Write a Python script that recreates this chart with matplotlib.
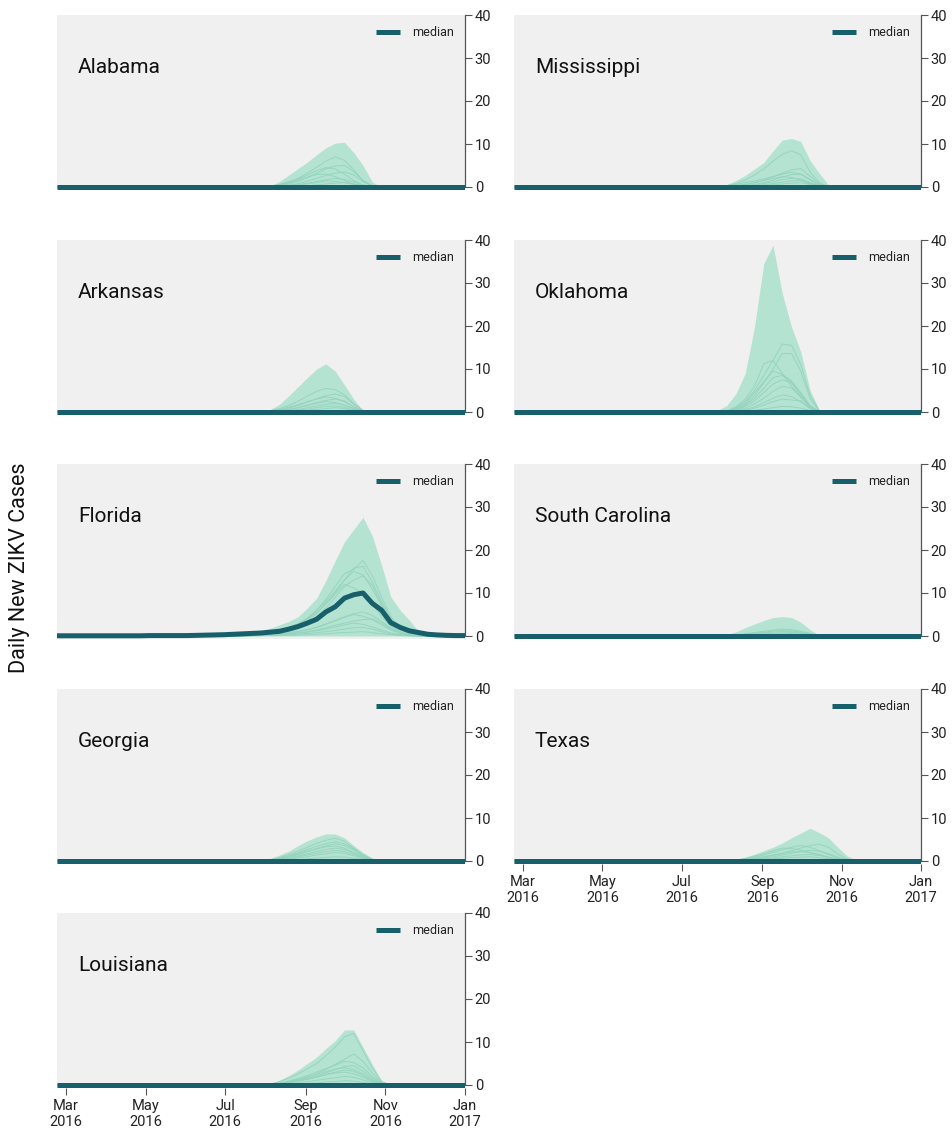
import numpy as np
import pandas as pd
import matplotlib
matplotlib.use("Agg")
import matplotlib.pyplot as plt
from matplotlib.lines import Line2D

plt.rcParams["font.family"] = ["Roboto", "DejaVu Sans"]

# ---------------------------------------------------------------- data
# roughly weekly reporting dates over the season
dates = pd.date_range("2016-02-23", "2017-01-01", periods=45)
WIN_START = 20          # first week index of the outbreak window

states_left = ["Alabama", "Arkansas", "Florida", "Georgia", "Louisiana"]
states_right = ["Mississippi", "Oklahoma", "South Carolina", "Texas"]

# Florida median trajectory (full season)
florida_median = [0.05, 0.05, 0.05, 0.05, 0.05, 0.05, 0.05, 0.05, 0.05, 0.05,
                  0.1, 0.1, 0.1, 0.1, 0.1, 0.15, 0.2, 0.25, 0.3, 0.4,
                  0.5, 0.6, 0.7, 0.9, 1.1, 1.6, 2.2, 3.0, 3.9, 5.6,
                  6.8, 8.8, 9.6, 10.0, 7.6, 6.0, 3.1, 2.0, 1.2, 0.8,
                  0.4, 0.25, 0.15, 0.1, 0.1]

# upper envelope of all simulations, outbreak window only
alabama_upper = [0, 0, 0, 0.2, 1.3, 2.8, 4.3, 5.8, 7.5, 9.1, 10.2, 10.4, 8.0, 5.0, 1.2]
arkansas_upper = [0, 0, 0, 0.6, 1.8, 3.8, 5.9, 8.0, 10.0, 11.2, 9.5, 6.3, 3.0, 0.3]
florida_upper = [0.6, 0.8, 1.1, 1.8, 2.6, 3.4, 4.5, 6.5, 8.8, 12.9, 17.5, 21.9,
                 24.8, 27.6, 23.3, 16.5, 9.1, 6.0, 3.7, 1.0, 0.4]
georgia_upper = [0, 0, 0, 0.6, 1.4, 2.3, 3.6, 4.7, 5.6, 6.3, 6.3, 5.4, 3.6, 2.0, 0.7]
louisiana_upper = [0, 0, 0, 0.3, 1.1, 2.2, 3.5, 5.0, 6.5, 8.5, 10.3, 12.8, 12.8, 8.8, 4.8, 1.0]
mississippi_upper = [0, 0, 0, 0.6, 1.5, 2.7, 4.2, 5.7, 8.4, 10.9, 11.3, 10.6, 6.2, 3.2, 0.5]
oklahoma_upper = [0, 0.1, 0.4, 1.5, 4.3, 9.0, 19.8, 34.5, 38.8, 27.6, 19.8, 14.0, 5.1, 0.5]
south_carolina_upper = [0, 0, 0, 0.3, 1.0, 1.9, 2.8, 3.6, 4.3, 4.5, 4.3, 3.2, 1.5, 0.2]
texas_upper = [0, 0, 0, 0, 0.3, 0.9, 1.6, 2.4, 3.2, 4.2, 5.4, 6.5, 7.6, 6.6, 5.4, 3.2, 1.2, 0.2]

# individual simulation runs, outbreak window only
alabama_runs = [
    [0, 0, 0, 0.2, 0.6, 1.2, 2.0, 3.2, 4.6, 6.0, 7.0, 6.2, 4.0, 1.5, 0.3],
    [0, 0, 0, 0.1, 0.3, 0.7, 1.3, 2.2, 3.2, 4.2, 4.9, 5.0, 3.6, 1.5, 0.3],
    [0, 0, 0, 0.2, 0.5, 1.0, 1.8, 2.8, 3.8, 4.5, 4.2, 3.0, 1.5, 0.4],
    [0, 0, 0, 0, 0.1, 0.4, 0.8, 1.4, 2.0, 2.7, 3.2, 3.5, 2.8, 1.2, 0.2],
    [0, 0, 0, 0.2, 0.5, 1.0, 1.6, 2.3, 2.9, 3.0, 2.4, 1.5, 0.7, 0.2],
    [0, 0, 0, 0, 0.1, 0.3, 0.6, 0.9, 1.3, 1.7, 2.0, 1.8, 1.2, 0.5, 0.1],
    [0, 0, 0, 0, 0.1, 0.2, 0.4, 0.7, 1.0, 1.4, 1.3, 1.0, 0.6, 0.2],
    [0, 0, 0, 0, 0, 0.1, 0.2, 0.3, 0.5, 0.7, 0.9, 1.0, 0.7, 0.3],
]
arkansas_runs = [
    [0, 0, 0, 0.3, 0.8, 1.5, 2.5, 3.7, 4.8, 5.5, 5.2, 4.0, 2.0, 0.4],
    [0, 0, 0, 0.1, 0.4, 0.9, 1.5, 2.3, 3.1, 3.8, 4.2, 3.6, 1.8, 0.3],
    [0, 0, 0, 0.2, 0.6, 1.1, 1.7, 2.4, 3.0, 3.5, 3.2, 2.4, 1.2, 0.2],
    [0, 0, 0, 0.1, 0.3, 0.6, 1.0, 1.6, 2.2, 2.7, 3.0, 2.6, 1.2, 0.2],
    [0, 0, 0, 0.1, 0.3, 0.6, 1.0, 1.5, 2.0, 2.4, 2.2, 1.6, 0.8, 0.1],
    [0, 0, 0, 0, 0.1, 0.3, 0.6, 1.0, 1.4, 1.8, 2.0, 1.6, 0.8, 0.1],
    [0, 0, 0, 0, 0.1, 0.2, 0.4, 0.7, 1.0, 1.3, 1.4, 1.1, 0.5, 0.1],
    [0, 0, 0, 0, 0, 0.1, 0.2, 0.4, 0.6, 0.8, 1.0, 0.8, 0.4],
]
florida_runs = [
    [0.5, 0.6, 0.8, 1.0, 1.4, 2.0, 2.8, 4.0, 6.0, 8.5, 11.5, 14.5, 15.5, 17.6, 14.0, 9.0, 4.5, 2.0, 0.8, 0.3, 0.1],
    [0.4, 0.5, 0.7, 0.9, 1.2, 1.8, 2.5, 3.6, 5.2, 7.5, 10.0, 13.0, 15.8, 16.2, 12.5, 8.0, 4.0, 1.8, 0.7, 0.3, 0.1],
    [0.3, 0.4, 0.6, 0.9, 1.3, 1.9, 2.8, 4.2, 6.0, 8.0, 10.5, 13.0, 15.0, 14.2, 11.0, 7.0, 3.5, 1.5, 0.6, 0.2, 0.1],
    [0.3, 0.4, 0.5, 0.7, 1.0, 1.4, 2.0, 3.0, 4.5, 6.5, 9.0, 11.5, 13.0, 14.0, 11.8, 7.5, 3.8, 1.6, 0.6, 0.2, 0.1],
    [0.3, 0.4, 0.6, 0.9, 1.3, 1.9, 2.8, 4.0, 5.5, 7.5, 9.8, 12.0, 11.2, 10.0, 7.5, 4.5, 2.2, 1.0, 0.4, 0.1],
    [0.1, 0.2, 0.3, 0.4, 0.6, 0.8, 1.1, 1.5, 2.0, 2.8, 3.6, 4.5, 5.2, 5.6, 4.8, 3.4, 1.8, 0.8, 0.3, 0.1],
    [0.1, 0.2, 0.3, 0.4, 0.5, 0.7, 1.0, 1.4, 2.0, 2.7, 3.5, 4.3, 5.0, 4.6, 3.8, 2.6, 1.4, 0.6, 0.2, 0.1],
    [0.1, 0.1, 0.2, 0.3, 0.4, 0.5, 0.7, 1.0, 1.4, 1.9, 2.5, 3.0, 3.5, 3.8, 4.0, 3.0, 1.6, 0.7, 0.3, 0.1],
    [0.1, 0.1, 0.2, 0.3, 0.4, 0.5, 0.7, 0.9, 1.2, 1.6, 2.1, 2.6, 3.0, 2.7, 2.1, 1.4, 0.7, 0.3, 0.1],
    [0, 0.1, 0.1, 0.2, 0.2, 0.3, 0.4, 0.6, 0.8, 1.0, 1.3, 1.6, 1.9, 2.0, 1.6, 1.0, 0.5, 0.2, 0.1],
    [0, 0, 0.1, 0.1, 0.1, 0.2, 0.2, 0.3, 0.4, 0.5, 0.7, 0.8, 0.9, 1.0, 0.8, 0.5, 0.3, 0.1],
]
georgia_runs = [
    [0, 0, 0, 0.3, 0.8, 1.5, 2.3, 3.2, 4.1, 4.8, 5.3, 4.6, 3.0, 1.5, 0.4],
    [0, 0, 0, 0.2, 0.6, 1.2, 1.9, 2.7, 3.4, 4.0, 4.5, 4.0, 2.8, 1.3, 0.3],
    [0, 0, 0, 0.1, 0.4, 0.9, 1.5, 2.2, 2.9, 3.5, 4.0, 3.6, 2.6, 1.2, 0.3],
    [0, 0, 0, 0.2, 0.6, 1.1, 1.7, 2.3, 2.8, 3.3, 3.5, 3.0, 2.0, 1.0, 0.2],
    [0, 0, 0, 0.1, 0.3, 0.7, 1.2, 1.7, 2.2, 2.7, 3.0, 2.7, 1.8, 0.8, 0.2],
    [0, 0, 0, 0.1, 0.3, 0.6, 1.0, 1.4, 1.8, 2.2, 2.5, 2.2, 1.5, 0.7, 0.1],
    [0, 0, 0, 0, 0.2, 0.4, 0.7, 1.0, 1.4, 1.7, 2.0, 1.8, 1.2, 0.5, 0.1],
    [0, 0, 0, 0, 0.1, 0.2, 0.3, 0.5, 0.7, 0.8, 1.0, 0.9, 0.6, 0.3],
]
louisiana_runs = [
    [0, 0, 0, 0.2, 0.8, 1.6, 2.6, 3.8, 5.0, 6.8, 8.8, 11.2, 12.0, 8.0, 4.0, 0.8],
    [0, 0, 0, 0.1, 0.3, 0.7, 1.2, 1.8, 2.6, 3.6, 4.8, 6.0, 7.2, 5.5, 2.8, 0.6],
    [0, 0, 0, 0.1, 0.4, 0.9, 1.5, 2.2, 3.0, 3.8, 4.6, 5.5, 5.2, 4.0, 2.0, 0.4],
    [0, 0, 0, 0.1, 0.3, 0.6, 1.0, 1.5, 2.1, 2.8, 3.6, 4.3, 4.5, 3.2, 1.6, 0.3],
    [0, 0, 0, 0.1, 0.4, 0.8, 1.3, 1.9, 2.5, 3.1, 3.7, 4.0, 3.6, 2.6, 1.2, 0.2],
    [0, 0, 0, 0, 0.2, 0.5, 0.9, 1.3, 1.8, 2.4, 3.0, 3.5, 3.2, 2.2, 1.0, 0.2],
    [0, 0, 0, 0.1, 0.3, 0.6, 1.0, 1.4, 1.9, 2.4, 2.8, 3.0, 2.6, 1.8, 0.8, 0.1],
    [0, 0, 0, 0, 0.1, 0.3, 0.5, 0.8, 1.1, 1.4, 1.7, 2.0, 1.8, 1.2, 0.5],
    [0, 0, 0, 0, 0.1, 0.1, 0.2, 0.4, 0.5, 0.7, 0.8, 1.0, 0.9, 0.6, 0.3],
]
mississippi_runs = [
    [0, 0, 0, 0.3, 0.8, 1.6, 2.8, 4.2, 6.0, 7.6, 8.4, 7.5, 3.5, 1.0, 0.1],
    [0, 0, 0, 0.1, 0.3, 0.6, 1.0, 1.6, 2.4, 3.2, 4.0, 4.3, 2.5, 0.8],
    [0, 0, 0, 0.2, 0.6, 1.0, 1.4, 1.9, 2.4, 3.0, 3.4, 3.0, 1.6, 0.4],
    [0, 0, 0, 0, 0.1, 0.3, 0.6, 1.0, 1.6, 2.3, 2.9, 3.0, 1.8, 0.5],
    [0, 0, 0, 0.1, 0.3, 0.6, 1.0, 1.5, 2.0, 2.4, 2.2, 1.6, 0.8, 0.2],
    [0, 0, 0, 0, 0.1, 0.2, 0.4, 0.8, 1.2, 1.7, 2.0, 1.9, 1.0, 0.3],
    [0, 0, 0, 0, 0, 0.1, 0.3, 0.5, 0.8, 1.1, 1.4, 1.5, 0.8, 0.2],
    [0, 0, 0, 0, 0, 0.1, 0.2, 0.3, 0.5, 0.7, 0.9, 1.0, 0.6, 0.2],
]
oklahoma_runs = [
    [0, 0, 0, 0.2, 1.0, 2.5, 5.0, 8.5, 12.0, 15.8, 15.5, 11.0, 4.0, 0.3],
    [0, 0, 0, 0.1, 0.6, 1.8, 3.8, 6.8, 10.0, 13.6, 13.6, 9.5, 3.2, 0.2],
    [0, 0, 0, 0.2, 1.2, 3.0, 6.0, 11.2, 12.0, 9.0, 6.0, 3.5, 1.2, 0.1],
    [0, 0, 0, 0.1, 0.8, 2.2, 4.5, 7.0, 9.5, 8.8, 7.2, 4.5, 1.5, 0.1],
    [0, 0, 0, 0.1, 0.6, 1.6, 3.2, 5.5, 8.0, 8.5, 7.0, 4.2, 1.4, 0.1],
    [0, 0, 0, 0.1, 0.5, 1.3, 2.6, 4.5, 6.5, 7.5, 6.8, 4.0, 1.3, 0.1],
    [0, 0, 0, 0, 0.3, 0.9, 1.9, 3.2, 4.8, 6.0, 5.6, 3.4, 1.0],
    [0, 0, 0, 0, 0.2, 0.6, 1.2, 2.2, 3.2, 4.0, 3.6, 2.4, 0.8],
    [0, 0, 0, 0, 0.1, 0.4, 0.9, 1.6, 2.4, 3.0, 2.8, 2.6, 0.8],
    [0, 0, 0, 0, 0.1, 0.2, 0.4, 0.7, 1.0, 1.3, 1.2, 0.9, 0.3],
]
south_carolina_runs = [
    [0, 0, 0, 0.1, 0.3, 0.5, 0.8, 1.1, 1.4, 1.6, 1.5, 1.1, 0.6, 0.1],
    [0, 0, 0, 0, 0.2, 0.4, 0.6, 0.9, 1.1, 1.3, 1.2, 0.9, 0.4, 0.1],
    [0, 0, 0, 0, 0.1, 0.3, 0.5, 0.7, 0.9, 1.0, 1.0, 0.7, 0.3],
    [0, 0, 0, 0, 0.1, 0.2, 0.3, 0.5, 0.6, 0.7, 0.8, 0.6, 0.3],
    [0, 0, 0, 0, 0, 0.1, 0.2, 0.3, 0.4, 0.5, 0.6, 0.4, 0.2],
]
texas_runs = [
    [0, 0, 0, 0, 0.1, 0.3, 0.6, 0.9, 1.3, 1.8, 2.4, 3.0, 3.6, 3.9, 3.2, 1.6, 0.5, 0.1],
    [0, 0, 0, 0, 0.2, 0.5, 0.9, 1.4, 2.0, 2.6, 3.2, 3.6, 3.2, 2.4, 1.5, 0.7, 0.2],
    [0, 0, 0, 0, 0.2, 0.6, 1.1, 1.7, 2.4, 3.0, 2.9, 2.5, 2.0, 1.5, 0.9, 0.4, 0.1],
    [0, 0, 0, 0, 0.1, 0.2, 0.4, 0.7, 1.0, 1.4, 1.8, 2.2, 2.5, 2.3, 1.7, 0.9, 0.3],
    [0, 0, 0, 0, 0.1, 0.3, 0.6, 1.0, 1.4, 1.8, 2.1, 2.2, 1.9, 1.4, 0.8, 0.3, 0.1],
    [0, 0, 0, 0, 0, 0.1, 0.3, 0.5, 0.7, 1.0, 1.2, 1.4, 1.5, 1.3, 0.9, 0.4, 0.1],
    [0, 0, 0, 0, 0, 0.1, 0.2, 0.3, 0.5, 0.6, 0.8, 0.9, 1.0, 0.8, 0.5, 0.2],
]

upper_by_state = {
    "Alabama": alabama_upper, "Arkansas": arkansas_upper, "Florida": florida_upper,
    "Georgia": georgia_upper, "Louisiana": louisiana_upper,
    "Mississippi": mississippi_upper, "Oklahoma": oklahoma_upper,
    "South Carolina": south_carolina_upper, "Texas": texas_upper,
}
runs_by_state = {
    "Alabama": alabama_runs, "Arkansas": arkansas_runs, "Florida": florida_runs,
    "Georgia": georgia_runs, "Louisiana": louisiana_runs,
    "Mississippi": mississippi_runs, "Oklahoma": oklahoma_runs,
    "South Carolina": south_carolina_runs, "Texas": texas_runs,
}
median_by_state = {"Florida": florida_median}

tick_dates = pd.to_datetime(["2016-03-01", "2016-05-01", "2016-07-01",
                             "2016-09-01", "2016-11-01", "2017-01-01"])
tick_labels = ["Mar\n2016", "May\n2016", "Jul\n2016", "Sep\n2016", "Nov\n2016", "Jan\n2017"]
y_ticks = [0, 10, 20, 30, 40]

# ---------------------------------------------------------------- style
BG = "#f0f0f0"
FILL = "#b5e3d2"
RUN = "#93d3bd"
MEDIAN = "#17606b"
AXIS = "#555555"
TEXT = "#222222"


def full_season(window_values):
    """Place outbreak-window values into a zero season series."""
    series = np.zeros(len(dates))
    vals = np.asarray(window_values, dtype=float)
    series[WIN_START:WIN_START + len(vals)] = vals
    return series


W, H = 952, 1135
fig = plt.figure(figsize=(W / 100, H / 100), dpi=100)

col_x = [(57, 465), (514, 921)]
row_top = [15, 240, 464, 689, 913]
PX_PER_UNIT = 172 / 40
Y_MIN = -0.6
panel_h = 172 + (-Y_MIN) * PX_PER_UNIT

x_left = pd.Timestamp("2016-02-23")
x_right = pd.Timestamp("2017-01-01")


def draw_panel(state, col, row, show_x):
    x0, x1 = col_x[col]
    top = row_top[row]
    ax = fig.add_axes([x0 / W, 1 - (top + panel_h) / H, (x1 - x0) / W, panel_h / H])
    ax.set_facecolor(BG)

    upper = full_season(upper_by_state[state])
    ax.fill_between(dates, 0, upper, color=FILL, lw=0, zorder=1)
    for run in runs_by_state[state]:
        ax.plot(dates, full_season(run), color=RUN, lw=0.7, alpha=0.9, zorder=2)
    median = np.asarray(median_by_state.get(state, np.zeros(len(dates))), dtype=float)
    ax.plot(dates, median, color=MEDIAN, lw=3.6, zorder=3, solid_capstyle="butt")

    ax.set_xlim(x_left, x_right)
    ax.set_ylim(Y_MIN, 40)

    for s in ("left", "top", "bottom"):
        ax.spines[s].set_visible(False)
    ax.spines["right"].set_color(AXIS)
    ax.spines["right"].set_linewidth(0.9)
    ax.spines["right"].set_bounds(0, 40)
    ax.yaxis.tick_right()
    ax.set_yticks(y_ticks)
    ax.tick_params(axis="y", colors=AXIS, labelcolor=TEXT, length=5, width=0.8,
                   labelsize=10.5, pad=2)

    if show_x:
        ax.set_xticks(tick_dates)
        ax.set_xticklabels(tick_labels, linespacing=1.2)
        ax.tick_params(axis="x", colors=AXIS, labelcolor=TEXT, length=5, width=0.8,
                       labelsize=10.5, pad=3)
    else:
        ax.set_xticks([])

    ax.text(0.051, 0.70, state, transform=ax.transAxes, fontsize=15,
            fontweight="normal", color="#111111", va="center", ha="left")

    handle = Line2D([], [], color=MEDIAN, lw=3.6, solid_capstyle="butt")
    ax.legend([handle], ["median"], loc="upper right", frameon=False,
              fontsize=9, handlelength=1.9, handletextpad=0.95,
              borderaxespad=0.5, borderpad=0.4, labelcolor=TEXT)
    return ax


for r, st in enumerate(states_left):
    draw_panel(st, 0, r, show_x=(r == len(states_left) - 1))
for r, st in enumerate(states_right):
    draw_panel(st, 1, r, show_x=(r == len(states_right) - 1))

fig.text(20 / W, 1 - 568 / H, "Daily New ZIKV Cases", rotation=90,
         ha="center", va="center", fontsize=15.5, color="#111111")

fig.savefig("out.png", dpi=100)
